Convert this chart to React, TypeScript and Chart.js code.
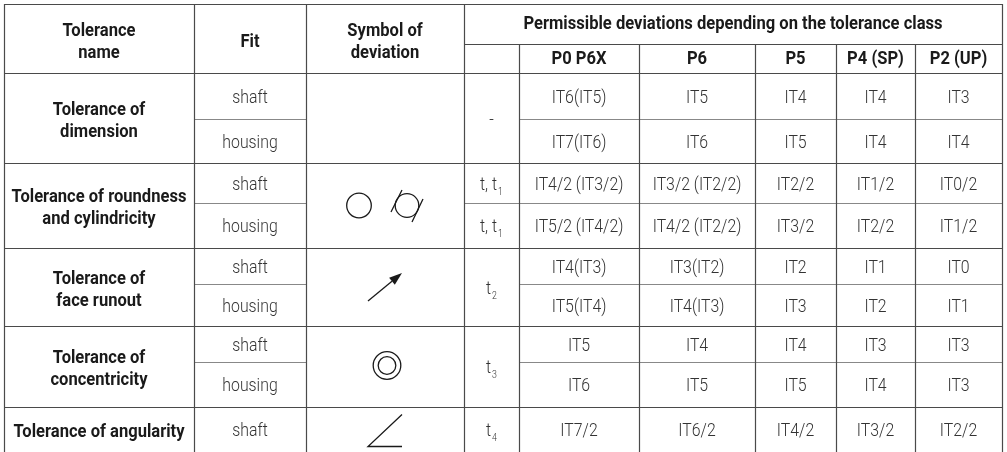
import React, { useEffect, useRef } from "react";
import { Chart, registerables } from "chart.js";

Chart.register(...registerables);

// ---------- data ----------
const HEAD_NAME = ["Tolerance", "name"];
const HEAD_FIT = ["Fit"];
const HEAD_SYMBOL = ["Symbol of", "deviation"];
const HEAD_PERMISSIBLE = "Permissible deviations depending on the tolerance class";
const CLASSES = ["P0 P6X", "P6", "P5", "P4 (SP)", "P2 (UP)"];

const GROUP_NAMES = [
  ["Tolerance of", "dimension"],
  ["Tolerance of roundness", "and cylindricity"],
  ["Tolerance of", "face runout"],
  ["Tolerance of", "concentricity"],
  ["Tolerance of angularity"],
];
const GROUP_FITS = [
  ["shaft", "housing"],
  ["shaft", "housing"],
  ["shaft", "housing"],
  ["shaft", "housing"],
  ["shaft"],
];
const GROUP_ICONS = ["", "roundness", "runout", "concentricity", "angularity"];
// [main text, subscript]; one entry = spans the whole group
const GROUP_TSYMBOLS: [string, string][][] = [
  [["-", ""]],
  [["t, t", "1"], ["t, t", "1"]],
  [["t", "2"]],
  [["t", "3"]],
  [["t", "4"]],
];

const VALUES_DIM_SHAFT = ["IT6(IT5)", "IT5", "IT4", "IT4", "IT3"];
const VALUES_DIM_HOUSING = ["IT7(IT6)", "IT6", "IT5", "IT4", "IT4"];
const VALUES_ROUND_SHAFT = ["IT4/2 (IT3/2)", "IT3/2 (IT2/2)", "IT2/2", "IT1/2", "IT0/2"];
const VALUES_ROUND_HOUSING = ["IT5/2 (IT4/2)", "IT4/2 (IT2/2)", "IT3/2", "IT2/2", "IT1/2"];
const VALUES_RUNOUT_SHAFT = ["IT4(IT3)", "IT3(IT2)", "IT2", "IT1", "IT0"];
const VALUES_RUNOUT_HOUSING = ["IT5(IT4)", "IT4(IT3)", "IT3", "IT2", "IT1"];
const VALUES_CONC_SHAFT = ["IT5", "IT4", "IT4", "IT3", "IT3"];
const VALUES_CONC_HOUSING = ["IT6", "IT5", "IT5", "IT4", "IT3"];
const VALUES_ANG_SHAFT = ["IT7/2", "IT6/2", "IT4/2", "IT3/2", "IT2/2"];

const VALUE_ROWS = [
  VALUES_DIM_SHAFT,
  VALUES_DIM_HOUSING,
  VALUES_ROUND_SHAFT,
  VALUES_ROUND_HOUSING,
  VALUES_RUNOUT_SHAFT,
  VALUES_RUNOUT_HOUSING,
  VALUES_CONC_SHAFT,
  VALUES_CONC_HOUSING,
  VALUES_ANG_SHAFT,
];

// ---------- layout (scale units) ----------
const W = 1007;
const H = 452;
const COL_EDGES = [4, 194, 306, 464, 519, 639, 755, 836, 915, 1002];
const ROW_EDGES = [4, 44, 73, 119, 163, 203, 248, 284, 326, 362, 407, 452];

const MAJOR = "#4a4a4a";
const MINOR = "#888888";
const BOLD_COLOR = "#1a1a1a";
const REG_COLOR = "#333333";
const FONT_FAMILY = "Roboto, 'Noto Sans', sans-serif";
const BOLD_FONT = `700 18px ${FONT_FAMILY}`;
const REG_FONT = `300 18px ${FONT_FAMILY}`;
const SUB_FONT = `300 10px ${FONT_FAMILY}`;
const BOLD_SX = 0.92;
const REG_SX = 0.88;
const LINE_GAP = 22;

// derived row structure
const groupStartRows: number[] = [];
{
  let r = 0;
  GROUP_FITS.forEach((f) => {
    groupStartRows.push(r);
    r += f.length;
  });
}
const rowTop = (r: number) => ROW_EDGES[r + 2];
const rowBottom = (r: number) => ROW_EDGES[r + 3];
const colCenter = (c: number) => (COL_EDGES[c] + COL_EDGES[c + 1]) / 2;

const valuePoints: any[] = [];
VALUE_ROWS.forEach((row, r) => {
  row.forEach((label, c) => {
    valuePoints.push({ x: colCenter(c + 4), y: (rowTop(r) + rowBottom(r)) / 2, label });
  });
});
const fitPoints: any[] = [];
GROUP_FITS.forEach((fits, g) => {
  fits.forEach((label, i) => {
    const r = groupStartRows[g] + i;
    fitPoints.push({ x: colCenter(1), y: (rowTop(r) + rowBottom(r)) / 2, label });
  });
});

function drawText(
  ctx: CanvasRenderingContext2D,
  s: string,
  x: number,
  y: number,
  font: string,
  color: string,
  sx: number
) {
  ctx.save();
  ctx.font = font;
  ctx.fillStyle = color;
  ctx.textAlign = "center";
  ctx.textBaseline = "middle";
  ctx.translate(x, y);
  ctx.scale(sx, 1);
  ctx.fillText(s, 0, 0);
  ctx.restore();
}

function drawLines(ctx: CanvasRenderingContext2D, lines: string[], x: number, y: number, font: string, color: string, sx: number, gap: number) {
  const n = lines.length;
  lines.forEach((l, i) => {
    drawText(ctx, l, x, y + (i - (n - 1) / 2) * gap, font, color, sx);
  });
}

function drawSubText(ctx: CanvasRenderingContext2D, main: string, sub: string, x: number, y: number) {
  ctx.save();
  ctx.font = REG_FONT;
  const wm = ctx.measureText(main).width * REG_SX;
  ctx.font = SUB_FONT;
  const ws = sub ? ctx.measureText(sub).width * REG_SX + 1 : 0;
  const x0 = x - (wm + ws) / 2;
  ctx.fillStyle = REG_COLOR;
  ctx.textBaseline = "middle";
  ctx.textAlign = "left";
  ctx.font = REG_FONT;
  ctx.save();
  ctx.translate(x0, y);
  ctx.scale(REG_SX, 1);
  ctx.fillText(main, 0, 0);
  ctx.restore();
  if (sub) {
    ctx.font = SUB_FONT;
    ctx.save();
    ctx.translate(x0 + wm + 1, y + 7);
    ctx.scale(REG_SX, 1);
    ctx.fillText(sub, 0, 0);
    ctx.restore();
  }
  ctx.restore();
}

function drawIcon(ctx: CanvasRenderingContext2D, kind: string, cx: number, cy: number) {
  ctx.save();
  ctx.strokeStyle = "#1a1a1a";
  ctx.fillStyle = "#1a1a1a";
  ctx.lineWidth = 1.3;
  if (kind === "roundness") {
    ctx.beginPath();
    ctx.arc(cx - 26, cy, 12.3, 0, Math.PI * 2);
    ctx.stroke();
    const c2 = cx + 22;
    ctx.beginPath();
    ctx.arc(c2, cy, 11.8, 0, Math.PI * 2);
    ctx.stroke();
    ctx.beginPath();
    ctx.moveTo(c2 - 16, cy + 6.5);
    ctx.lineTo(c2 - 5, cy - 15.5);
    ctx.moveTo(c2 + 5, cy + 16.5);
    ctx.lineTo(c2 + 16, cy - 6.5);
    ctx.stroke();
  } else if (kind === "runout") {
    const x1 = cx - 17, y1 = cy + 14, x2 = cx + 17, y2 = cy - 14;
    const ang = Math.atan2(y2 - y1, x2 - x1);
    const L = 13, Wd = 4.5;
    const bx = x2 - L * Math.cos(ang), by = y2 - L * Math.sin(ang);
    ctx.beginPath();
    ctx.moveTo(x1, y1);
    ctx.lineTo(bx, by);
    ctx.stroke();
    ctx.beginPath();
    ctx.moveTo(x2, y2);
    ctx.lineTo(bx + Wd * Math.sin(ang), by - Wd * Math.cos(ang));
    ctx.lineTo(bx - Wd * Math.sin(ang), by + Wd * Math.cos(ang));
    ctx.closePath();
    ctx.fill();
  } else if (kind === "concentricity") {
    ctx.beginPath();
    ctx.arc(cx + 2, cy - 1, 13.8, 0, Math.PI * 2);
    ctx.stroke();
    ctx.beginPath();
    ctx.arc(cx + 2, cy - 1, 8.8, 0, Math.PI * 2);
    ctx.stroke();
  } else if (kind === "angularity") {
    ctx.beginPath();
    ctx.moveTo(cx + 17, cy - 15);
    ctx.lineTo(cx - 17, cy + 17);
    ctx.lineTo(cx + 17, cy + 17);
    ctx.stroke();
  }
  ctx.restore();
}

const tablePlugin = {
  id: "tablePlugin",
  beforeDatasetsDraw(chart: any) {
    const ctx: CanvasRenderingContext2D = chart.ctx;
    const sx = chart.scales.x;
    const sy = chart.scales.y;
    const X = (v: number) => Math.round(sx.getPixelForValue(v)) + 0.5;
    const Y = (v: number) => Math.round(sy.getPixelForValue(v)) + 0.5;
    const hline = (y: number, x1: number, x2: number, color: string) => {
      ctx.strokeStyle = color;
      ctx.beginPath();
      ctx.moveTo(X(x1) - 0.5, Y(y));
      ctx.lineTo(X(x2) + 0.5, Y(y));
      ctx.stroke();
    };
    const vline = (x: number, y1: number, y2: number, color: string) => {
      ctx.strokeStyle = color;
      ctx.beginPath();
      ctx.moveTo(X(x), Y(y1) - 0.5);
      ctx.lineTo(X(x), Y(y2) + 0.5);
      ctx.stroke();
    };
    ctx.save();
    ctx.lineWidth = 1.2;
    const L = COL_EDGES[0], R = COL_EDGES[COL_EDGES.length - 1];
    const top = ROW_EDGES[0], bottom = ROW_EDGES[ROW_EDGES.length - 1];
    // header lines
    hline(ROW_EDGES[0], L, R, MAJOR);
    hline(ROW_EDGES[1], COL_EDGES[3], R, MAJOR);
    hline(ROW_EDGES[2], L, R, MAJOR);
    // body lines
    GROUP_FITS.forEach((fits, g) => {
      const r0 = groupStartRows[g];
      const ts = GROUP_TSYMBOLS[g];
      for (let i = 1; i < fits.length; i++) {
        const y = rowTop(r0 + i);
        hline(y, COL_EDGES[1], COL_EDGES[2], MINOR);
        hline(y, ts.length > 1 ? COL_EDGES[3] : COL_EDGES[4], R, MINOR);
      }
      if (g < GROUP_FITS.length - 1) {
        hline(rowBottom(r0 + fits.length - 1), L, R, MAJOR);
      }
    });
    // vertical lines
    [0, 1, 2, 3, COL_EDGES.length - 1].forEach((c) => vline(COL_EDGES[c], top, bottom, MAJOR));
    for (let c = 4; c < COL_EDGES.length - 1; c++) vline(COL_EDGES[c], ROW_EDGES[1], bottom, MAJOR);
    ctx.restore();
  },
  afterDatasetsDraw(chart: any) {
    const ctx: CanvasRenderingContext2D = chart.ctx;
    const sx = chart.scales.x;
    const sy = chart.scales.y;
    const X = (v: number) => sx.getPixelForValue(v);
    const Y = (v: number) => sy.getPixelForValue(v);
    const headMid = (ROW_EDGES[0] + ROW_EDGES[2]) / 2 + 4;
    drawLines(ctx, HEAD_NAME, X(colCenter(0)), Y(headMid), BOLD_FONT, BOLD_COLOR, BOLD_SX, LINE_GAP);
    drawLines(ctx, HEAD_FIT, X(colCenter(1)), Y(headMid), BOLD_FONT, BOLD_COLOR, BOLD_SX, LINE_GAP);
    drawLines(ctx, HEAD_SYMBOL, X(colCenter(2)), Y(headMid), BOLD_FONT, BOLD_COLOR, BOLD_SX, LINE_GAP);
    drawText(
      ctx,
      HEAD_PERMISSIBLE,
      X((COL_EDGES[3] + COL_EDGES[COL_EDGES.length - 1]) / 2),
      Y((ROW_EDGES[0] + ROW_EDGES[1]) / 2),
      BOLD_FONT,
      BOLD_COLOR,
      BOLD_SX
    );
    CLASSES.forEach((c, i) => {
      drawText(ctx, c, X(colCenter(i + 4)), Y((ROW_EDGES[1] + ROW_EDGES[2]) / 2 + 1), BOLD_FONT, BOLD_COLOR, BOLD_SX);
    });
    // group names, symbols, t-symbols
    GROUP_FITS.forEach((fits, g) => {
      const r0 = groupStartRows[g];
      const gTop = rowTop(r0);
      const gBot = rowBottom(r0 + fits.length - 1);
      const gMid = (gTop + gBot) / 2;
      drawLines(ctx, GROUP_NAMES[g], X(colCenter(0)), Y(gMid + 3), BOLD_FONT, BOLD_COLOR, BOLD_SX, LINE_GAP);
      drawIcon(ctx, GROUP_ICONS[g], X(colCenter(2)), Y(gMid));
      const ts = GROUP_TSYMBOLS[g];
      if (ts.length === 1) {
        drawSubText(ctx, ts[0][0], ts[0][1], X(colCenter(3)), Y(gMid + 2));
      } else {
        ts.forEach((t, i) => {
          const r = r0 + i;
          drawSubText(ctx, t[0], t[1], X(colCenter(3)), Y((rowTop(r) + rowBottom(r)) / 2 + 2));
        });
      }
    });
    // dataset labels (values & fits)
    chart.data.datasets.forEach((ds: any, di: number) => {
      const meta = chart.getDatasetMeta(di);
      meta.data.forEach((el: any, i: number) => {
        drawText(ctx, ds.data[i].label, el.x, el.y + 2, REG_FONT, REG_COLOR, REG_SX);
      });
    });
  },
};

export default function App() {
  const ref = useRef<HTMLCanvasElement | null>(null);
  useEffect(() => {
    if (!ref.current) return;
    const chart = new Chart(ref.current, {
      type: "scatter",
      data: {
        datasets: [
          { label: "values", data: valuePoints, pointRadius: 0, showLine: false },
          { label: "fits", data: fitPoints, pointRadius: 0, showLine: false },
        ],
      },
      options: {
        responsive: false,
        animation: false,
        events: [],
        layout: { padding: 0 },
        plugins: { legend: { display: false }, tooltip: { enabled: false } },
        scales: {
          x: { type: "linear", min: 0, max: W, display: false },
          y: { type: "linear", min: 0, max: H, reverse: true, display: false },
        },
      },
      plugins: [tablePlugin],
    } as any);
    return () => chart.destroy();
  }, []);
  return (
    <div style={{ position: "fixed", left: 0, top: 0, width: W, height: H, background: "#fff" }}>
      <canvas ref={ref} width={W} height={H} style={{ display: "block" }} />
    </div>
  );
}
